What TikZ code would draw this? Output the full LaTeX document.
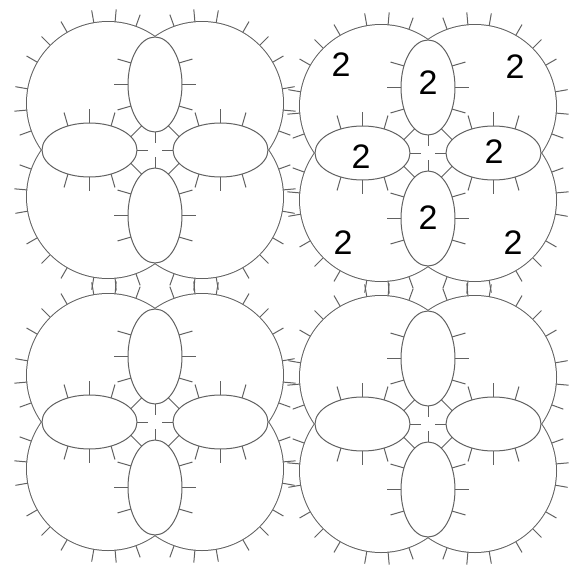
\documentclass[tikz,border=0pt]{standalone}
\usepackage{fontspec}
\setmainfont{Liberation Sans}
\tikzset{
  rim/.style={draw=black!62,line width=1pt},
  hair/.style={draw=black!62,line width=1pt},
  count/.style={font=\fontsize{34}{34}\selectfont,inner sep=0pt}
}
\begin{document}
\begin{tikzpicture}[x=1pt,y=-1pt]
  \useasboundingbox (0,0) rectangle (573,568);
  % hairs on the outer rims
  \foreach \px/\py in {155/150,428/153,155/422,428/424}{
    \foreach \sx/\sy in {-1/-1,1/-1,-1/1,1/1}{
      \foreach \t in {70,85,100,120,135,150,170,185,200}{
        \draw[hair] ({\px+\sx*47-\sx*81*cos(\t)},{\py+\sy*47+\sy*81*sin(\t)}) -- ++({-\sx*13*cos(\t)},{\sy*13*sin(\t)});
      }
    }
  }
  % rims: thick, then the insides wiped
  \foreach \px/\py in {155/150,428/153,155/422,428/424}{
    \foreach \sx/\sy in {-1/-1,1/-1,-1/1,1/1}
      \draw[rim,line width=2pt] (\px+\sx*47,\py+\sy*47) circle[radius=81pt];
  }
  \foreach \px/\py in {155/150,428/153,155/422,428/424}{
    \foreach \sx/\sy in {-1/-1,1/-1,-1/1,1/1}
      \fill[white] (\px+\sx*47,\py+\sy*47) circle[radius=81pt];
  }
  % the four lobes of each cell
  \foreach \px/\py in {155/150,428/153,155/422,428/424}{
    \foreach \s in {-1,1}{
      \draw[rim] (\px,\py+\s*65.5) ellipse[x radius=27pt,y radius=47.5pt];
      \draw[rim] (\px+\s*65.5,\py) ellipse[x radius=47.5pt,y radius=27pt];
      \foreach \t in {-27,0,27,153,180,207}{
        \pgfmathsetmacro\nx{47.5*cos(\t)}
        \pgfmathsetmacro\ny{27*sin(\t)}
        \pgfmathsetmacro\nn{14/sqrt(\nx*\nx+\ny*\ny)}
        \draw[hair] ({\px+27*cos(\t)},{\py+\s*65.5+47.5*sin(\t)}) -- ++({\nn*\nx},{\nn*\ny});
        \draw[hair] ({\px+\s*65.5+47.5*sin(\t)},{\py+27*cos(\t)}) -- ++({\nn*\ny},{\nn*\nx});
      }
      % centre stubs
      \draw[hair] (\px,\py+\s*18) -- (\px,\py+\s*7);
      \draw[hair] (\px+\s*18,\py) -- (\px+\s*7,\py);
    }
    % rungs between neighbouring lobes
    \foreach \sx/\sy in {-1/-1,1/-1,-1/1,1/1}
      \draw[hair] (\px+\sx*13.3,\py+\sy*24.2) -- (\px+\sx*24.2,\py+\sy*13.3);
  }
  % counts in the second cell
  \node[count] (tl)  at (341,65)  {2};
  \node[count] (top) at (428,83)  {2};
  \node[count] (tr)  at (515,67)  {2};
  \node[count] (lt)  at (361,157) {2};
  \node[count] (rt)  at (494,152) {2};
  \node[count] (bot) at (428,218) {2};
  \node[count] (bl)  at (343,243) {2};
  \node[count] (br)  at (513,243) {2};
\end{tikzpicture}
\end{document}
